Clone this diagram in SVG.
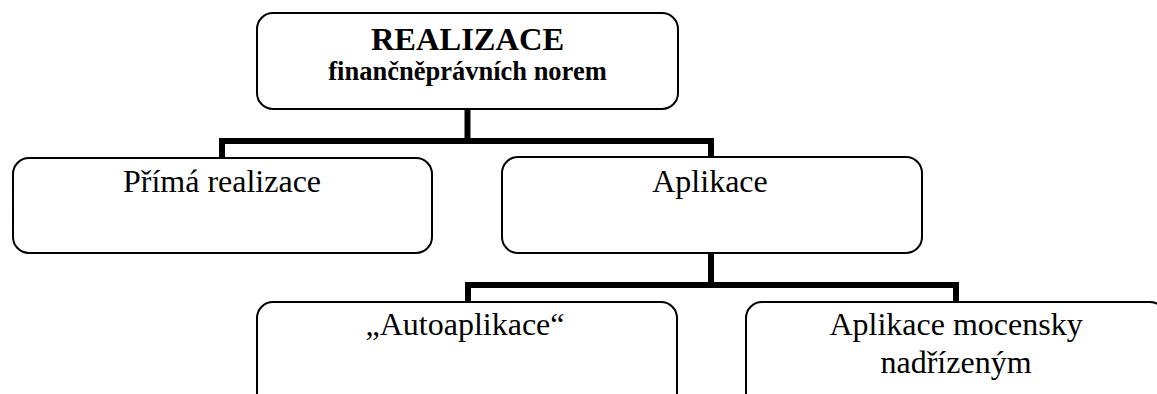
<svg xmlns="http://www.w3.org/2000/svg" width="1157" height="394" viewBox="0 0 1157 394">
<style>
.box{fill:#fff;stroke:#000;stroke-width:2}
.con{fill:none;stroke:#000;stroke-width:6;stroke-linejoin:miter;stroke-linecap:butt}
text{font-family:"Liberation Serif","Times New Roman",serif;fill:#000;text-anchor:middle}
.t{font-size:32px}
.h1{font-size:32.5px;font-weight:bold}
.h2{font-size:26.5px;font-weight:bold}
</style>
<rect width="1157" height="394" fill="#fff"/>
<g id="connectors">
<path class="con" d="M467.5 110 V141 M222 158 V141 H711 V157"/>
<path class="con" d="M711 253 V285 M468 302 V285 H956 V302"/>
</g>
<g id="root">
<rect class="box" x="257" y="13" width="421" height="96" rx="16"/>
<text class="h1" x="467.5" y="50">REALIZACE</text>
<text class="h2" x="467.5" y="80">finančněprávních norem</text>
</g>
<g id="prima">
<rect class="box" x="13" y="158" width="419" height="95" rx="16"/>
<text class="t" x="222" y="192">Přímá realizace</text>
</g>
<g id="aplikace">
<rect class="box" x="502" y="157" width="420" height="96" rx="16"/>
<text class="t" x="710" y="192">Aplikace</text>
</g>
<g id="autoaplikace">
<rect class="box" x="257" y="302" width="420" height="120" rx="16"/>
<text class="t" x="465" y="335">„Autoaplikace“</text>
</g>
<g id="mocensky">
<rect class="box" x="746" y="302" width="420" height="120" rx="16"/>
<text class="t" x="956" y="335">Aplikace mocensky</text>
<text class="t" x="956" y="373">nadřízeným</text>
</g>
</svg>
